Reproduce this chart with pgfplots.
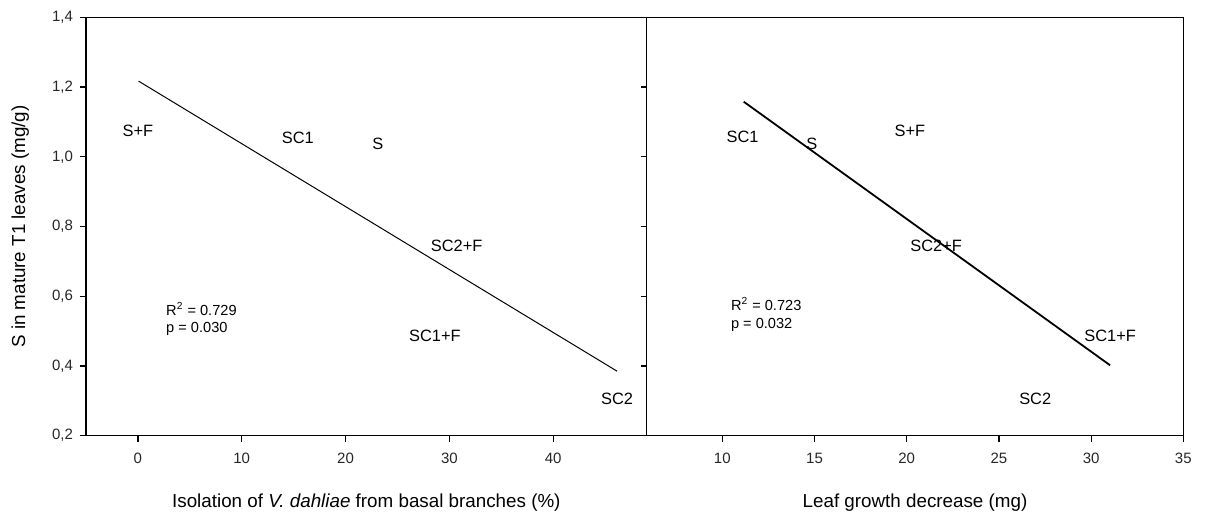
\documentclass[border=0pt]{standalone}
\usepackage{fontspec}
\setmainfont{Liberation Sans}
\usepackage{pgfplots}
\pgfplotsset{compat=1.18}

\pgfplotsset{
  panel/.style={
    scale only axis, height=209.2pt, anchor=south west,
    ymin=0.2, ymax=1.4, ytick={0.2,0.4,0.6,0.8,1.0,1.2,1.4},
    xtick pos=left, ytick pos=left, tick align=outside,
    major tick length=3pt,
    axis line style={black, line width=0.6pt},
    every tick/.style={black, line width=0.6pt},
    ticklabel style={font=\fontsize{7.5}{9}\selectfont, text=black!85},
    xticklabel style={yshift=-2pt},
    /pgf/number format/assume math mode=true,
    xlabel style={at={(axis description cs:0.5,0)}, anchor=base, yshift=-35.8pt,
                  font=\fontsize{9.4}{11}\selectfont},
  },
  labels/.style={only marks, mark=none, nodes near coords, point meta=explicit symbolic,
    nodes near coords style={anchor=center, inner sep=0pt, font=\fontsize{8.2}{10}\selectfont}},
}
\tikzset{stats/.style={anchor=west, align=left, inner sep=0pt, font=\fontsize{7.3}{8.8}\selectfont}}

\begin{document}
\begin{tikzpicture}
  \path (0,0) rectangle (614pt,256pt);

  % left panel: isolation frequency
  \begin{axis}[panel, at={(43pt,38.15pt)}, width=280.35pt,
      xmin=-5, xmax=49, xtick={0,10,20,30,40},
      yticklabel style={/pgf/number format/.cd, fixed, fixed zerofill, precision=1, use comma},
      xlabel={Isolation of \textit{V. dahliae} from basal branches (\%)}]
    \addplot[labels] table[meta=lab, row sep=\\] {
      x y lab \\
      0.0 1.074 S+F \\
      15.4 1.053 SC1 \\
      23.1 1.036 S \\
      30.7 0.744 SC2+F \\
      28.6 0.486 SC1+F \\
      46.15 0.307 SC2 \\
    };
    \addplot[black, line width=0.5pt] coordinates {(0.06,1.217) (46.15,0.385)};
    \node[stats] at (axis cs:2.69,0.535) {R\textsuperscript{2} = 0.729\\p = 0.030};
  \end{axis}

  % right panel: leaf growth
  \begin{axis}[panel, at={(323.35pt,38.15pt)}, width=268.3pt,
      xmin=5.9, xmax=35, xtick={10,15,20,25,30,35},
      yticklabels={},
      xlabel={Leaf growth decrease (mg)}]
    \addplot[labels] table[meta=lab, row sep=\\] {
      x y lab \\
      11.1 1.057 SC1 \\
      14.86 1.036 S \\
      20.17 1.074 S+F \\
      21.6 0.744 SC2+F \\
      31.03 0.485 SC1+F \\
      26.97 0.305 SC2 \\
    };
    \addplot[black, line width=0.9pt] coordinates {(11.16,1.158) (31.03,0.402)};
    \node[stats] at (axis cs:10.45,0.548) {R\textsuperscript{2} = 0.723\\p = 0.032};
  \end{axis}

  \node[rotate=90, anchor=base, font=\fontsize{9.4}{11}\selectfont] at (12.5pt,142.75pt)
    {S in mature T1 leaves (mg/g)};
\end{tikzpicture}
\end{document}
